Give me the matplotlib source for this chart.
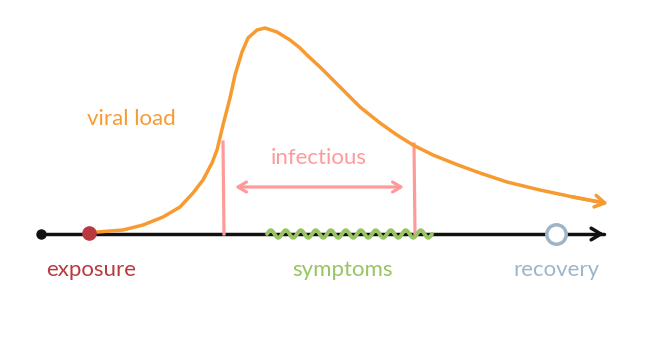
"""Viral load timeline sketch: exposure -> infectious/symptoms -> recovery."""
import matplotlib.pyplot as plt
import numpy as np

ORANGE = "#F79B31"
RED = "#B83A3E"
PINK = "#FF9A9A"
GREEN = "#98C462"
GREY_BLUE = "#9DB5C8"
BLACK = "#111111"

# ── Data (image pixel coordinates) ───────────────────────────────────────────
curve_x = [97, 123, 143, 163, 180, 193, 203, 212, 217, 223, 230, 235, 242, 248,
           257, 265, 277, 290, 300, 307, 320, 340, 360, 380, 397, 413, 433,
           458, 480, 507, 540, 573, 604]
curve_y = [232, 230, 225, 217, 207, 193, 180, 163, 150, 125, 98, 75, 52, 38,
           30, 28, 32, 40, 48, 55, 67, 87, 107, 123, 135, 145, 155,
           165, 173, 182, 190, 197, 203]

timeline_x = [41, 604]
baseline_y = 234
exposure_x = 89
recovery_x = 556
infectious_x = [223, 414]      # vertical markers where infectiousness starts/ends
infectious_top = [142, 144]
symptoms_x = [267, 432]

labels = ["exposure", "symptoms", "recovery"]
label_x = [91, 343, 556]
label_colors = [RED, GREEN, GREY_BLUE]

# ── Figure ───────────────────────────────────────────────────────────────────
fig = plt.figure(figsize=(6.57, 3.39), dpi=100)
ax = fig.add_axes([0, 0, 1, 1])
ax.set_xlim(0, 657)
ax.set_ylim(339, 0)
ax.axis("off")

font = "Lato"
arrow_head = "->,head_length=0.7,head_width=0.42"

# baseline with arrow
ax.plot(timeline_x, [baseline_y] * 2, color=BLACK, lw=2.5, solid_capstyle="round", zorder=2)
ax.annotate("", xy=(timeline_x[1] + 3, baseline_y), xytext=(timeline_x[1] - 10, baseline_y),
            arrowprops=dict(arrowstyle=arrow_head, color=BLACK, lw=2.5))
ax.plot(timeline_x[0], baseline_y, "o", color=BLACK, ms=6.5, zorder=3)

# symptoms squiggle (decorative wavy stroke)
sx = np.linspace(symptoms_x[0], symptoms_x[1], 400)
sy = baseline_y - 3.8 * np.sin((sx - symptoms_x[0]) / 15.0 * 2 * np.pi)
ax.plot(sx, sy, color=GREEN, lw=2.8, solid_capstyle="round", zorder=4)

# viral load curve
ax.plot(curve_x, curve_y, color=ORANGE, lw=2.5, solid_capstyle="round",
        solid_joinstyle="round", zorder=3)
ax.annotate("", xy=(curve_x[-1] + 4, curve_y[-1] + 0.6),
            xytext=(curve_x[-2], curve_y[-2]),
            arrowprops=dict(arrowstyle=arrow_head, color=ORANGE, lw=2.5,
                            shrinkA=0, shrinkB=0))

# infectious period markers
for xv, top in zip(infectious_x, infectious_top):
    ax.plot([xv, xv + 1], [top, baseline_y], color=PINK, lw=2.3, zorder=2)
ax.annotate("", xy=(235, 187), xytext=(404, 187),
            arrowprops=dict(arrowstyle="<->,head_length=0.6,head_width=0.36",
                            color=PINK, lw=2.3, shrinkA=0, shrinkB=0))
ax.text(319, 158, "infectious", color=PINK, fontsize=16, family=font,
        ha="center", va="center")

# exposure / recovery points
ax.plot(exposure_x, baseline_y - 1, "o", color=RED, ms=9.5, zorder=5)
ax.plot(recovery_x, baseline_y, "o", mfc="white", mec=GREY_BLUE, mew=2.5, ms=14, zorder=5)

ax.text(131, 119, "viral load", color=ORANGE, fontsize=16, family=font,
        ha="center", va="center")
for lab, xv, c in zip(labels, label_x, label_colors):
    ax.text(xv, 270, lab, color=c, fontsize=16, family=font, ha="center", va="center")

fig.savefig("out.png", dpi=100, facecolor="white")
